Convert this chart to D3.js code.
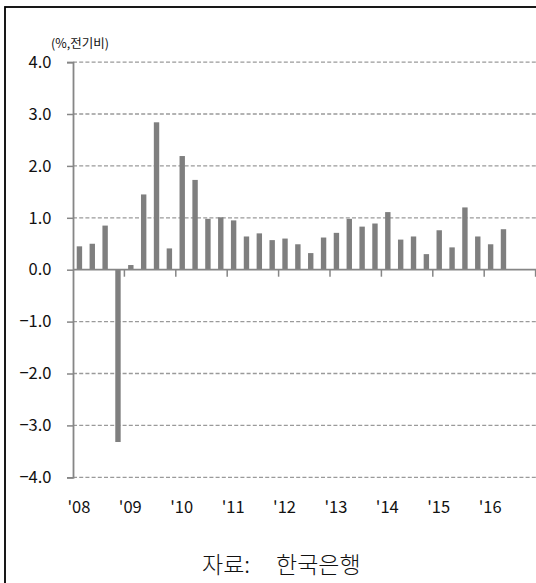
<!DOCTYPE html>
<html>
<head>
<meta charset="utf-8">
<script src="https://cdn.jsdelivr.net/npm/d3@7"></script>
<style>
  html, body { margin: 0; padding: 0; background: #fff; }
  svg { display: block; }
  text { font-family: "Noto Sans CJK KR", "Noto Sans", sans-serif; fill: #111; }
</style>
</head>
<body>
<script>
// ---- data ----
const quarters = [
  "2008Q1","2008Q2","2008Q3","2008Q4",
  "2009Q1","2009Q2","2009Q3","2009Q4",
  "2010Q1","2010Q2","2010Q3","2010Q4",
  "2011Q1","2011Q2","2011Q3","2011Q4",
  "2012Q1","2012Q2","2012Q3","2012Q4",
  "2013Q1","2013Q2","2013Q3","2013Q4",
  "2014Q1","2014Q2","2014Q3","2014Q4",
  "2015Q1","2015Q2","2015Q3","2015Q4",
  "2016Q1","2016Q2","2016Q3","2016Q4"
];
const growth = [
  0.45, 0.50, 0.85, -3.32,
  0.09, 1.45, 2.84, 0.41,
  2.19, 1.73, 0.98, 1.01,
  0.95, 0.64, 0.70, 0.57,
  0.60, 0.49, 0.32, 0.62,
  0.71, 0.98, 0.83, 0.89,
  1.11, 0.58, 0.64, 0.30,
  0.76, 0.43, 1.20, 0.64,
  0.49, 0.78, null, null
];
const yearLabels = ["'08","'09","'10","'11","'12","'13","'14","'15","'16"];
const yTicks = [4, 3, 2, 1, 0, -1, -2, -3, -4];
const unitLabel = "(%,전기비)";
const sourceParts = ["자료:", "한국은행"];

// ---- layout ----
const W = 536, H = 583;
const x0 = 73, x1 = 535.6, yTop = 62.1, yBot = 477.3;

const svg = d3.select("body").append("svg").attr("width", W).attr("height", H);

// frame (cut at right and bottom)
svg.append("rect").attr("x", 5).attr("y", 7).attr("width", 700).attr("height", 700)
  .attr("fill", "none").attr("stroke", "#000").attr("stroke-width", 1.8);

const x = d3.scaleBand().domain(quarters).range([x0, x1]).paddingInner(0.58).paddingOuter(0.29);
const y = d3.scaleLinear().domain([-4, 4]).range([yBot, yTop]);
const step = x.step();

// gridlines
svg.append("g").selectAll("line").data(yTicks.filter(d => d !== 0)).join("line")
  .attr("x1", x0).attr("x2", W)
  .attr("y1", d => y(d)).attr("y2", d => y(d))
  .attr("stroke", "#9a9a9a").attr("stroke-width", 1.3).attr("stroke-dasharray", "4,2.2");

// bars
svg.append("g").selectAll("rect").data(quarters.map((q, i) => ({q, v: growth[i]})).filter(d => d.v !== null)).join("rect")
  .attr("x", d => x(d.q))
  .attr("width", x.bandwidth())
  .attr("y", d => y(Math.max(0, d.v)))
  .attr("height", d => Math.abs(y(d.v) - y(0)))
  .attr("fill", "#7f7f7f");

// y axis
const yAxis = d3.axisLeft(y).tickValues(yTicks).tickSize(6).tickPadding(15.5).tickFormat(d3.format(".1f"));
const gy = svg.append("g").attr("transform", `translate(${x0},0)`).call(yAxis);
gy.select(".domain").attr("stroke", "#868686").attr("stroke-width", 1.8);
gy.selectAll(".tick line").attr("stroke", "#868686").attr("stroke-width", 1.5);
gy.selectAll(".tick text").style("font-size", "16.5px").attr("fill", "#111")
  .style("font-family", "'Noto Sans CJK KR', sans-serif");

// x axis (category axis at zero)
const gx = svg.append("g");
gx.append("line").attr("x1", x0).attr("x2", W).attr("y1", y(0)).attr("y2", y(0))
  .attr("stroke", "#868686").attr("stroke-width", 1.8);
const tickIdx = d3.range(4, quarters.length + 1, 4);
gx.selectAll("line.t").data(tickIdx).join("line").attr("class", "t")
  .attr("x1", i => x0 + i * step).attr("x2", i => x0 + i * step)
  .attr("y1", y(0)).attr("y2", y(0) + 7)
  .attr("stroke", "#868686").attr("stroke-width", 1.5);

// year labels at Q1 of each year
gx.selectAll("text").data(yearLabels).join("text")
  .attr("x", (d, i) => x(quarters[i * 4]) + x.bandwidth() / 2 - 0.5)
  .attr("y", 507)
  .attr("dy", "0.35em")
  .attr("text-anchor", "middle")
  .style("font-size", "16.5px")
  .text(d => d);

// unit label
svg.append("text").attr("x", 51).attr("y", 44).attr("dy", "0.35em")
  .style("font-size", "12.5px").text(unitLabel);

// source
const src = svg.append("text").attr("y", 565).attr("dy", "0.35em")
  .style("font-size", "23px").style("font-weight", 300);
src.selectAll("tspan").data(sourceParts).join("tspan")
  .attr("x", (d, i) => i === 0 ? 202 : 276)
  .text(d => d);
</script>
</body>
</html>
